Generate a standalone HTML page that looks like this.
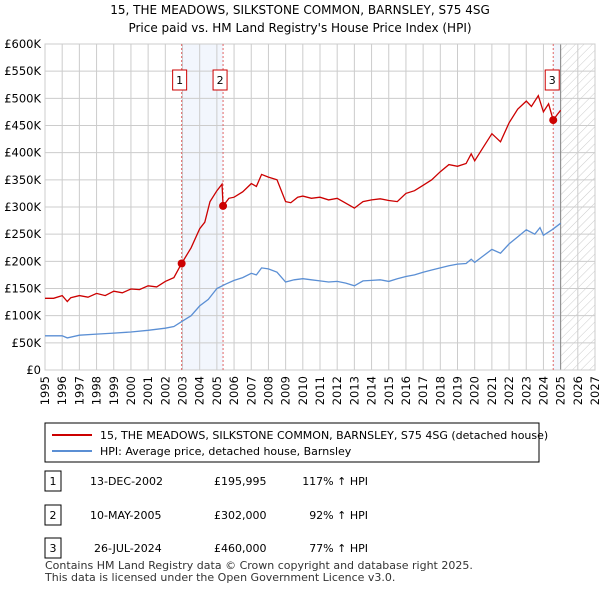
<!DOCTYPE html>
<html><head><meta charset="utf-8"><style>
body{margin:0;background:#fff;font-family:"Liberation Sans","DejaVu Sans",sans-serif;}
svg text{font-family:"DejaVu Sans","Liberation Sans",sans-serif;}
</style></head><body>
<svg id="c" width="600" height="590" xmlns="http://www.w3.org/2000/svg">
<defs><pattern id="h" width="6" height="6" patternUnits="userSpaceOnUse" patternTransform="rotate(45)"><line x1="0" y1="0" x2="0" y2="6" stroke="#ccc" stroke-width="1"/></pattern></defs>
<text x="300" y="14" text-anchor="middle" font-size="12">15, THE MEADOWS, SILKSTONE COMMON, BARNSLEY, S75 4SG</text>
<text x="300" y="32" text-anchor="middle" font-size="12">Price paid vs. HM Land Registry's House Price Index (HPI)</text>
<g id="grid"></g><g id="marks"></g>
<g>
<rect x="45" y="423" width="494" height="39" fill="#fff" stroke="#000" stroke-width="1"/>
<line x1="52" y1="435" x2="92" y2="435" stroke="#cc0000" stroke-width="2"/>
<text x="100" y="439" font-size="11">15, THE MEADOWS, SILKSTONE COMMON, BARNSLEY, S75 4SG (detached house)</text>
<line x1="52" y1="451" x2="92" y2="451" stroke="#5b8fd4" stroke-width="2"/>
<text x="100" y="455" font-size="11">HPI: Average price, detached house, Barnsley</text>
</g>
<g id="table" font-size="11"></g>
<text x="45" y="569" font-size="11" fill="#333">Contains HM Land Registry data © Crown copyright and database right 2025.</text>
<text x="45" y="581" font-size="11" fill="#333">This data is licensed under the Open Government Licence v3.0.</text>
</svg>
<script>
const yTicks=[0,50,100,150,200,250,300,350,400,450,500,550,600];
const yTickLabels=["£0","£50K","£100K","£150K","£200K","£250K","£300K","£350K","£400K","£450K","£500K","£550K","£600K"];
const xYears=[1995,1996,1997,1998,1999,2000,2001,2002,2003,2004,2005,2006,2007,2008,2009,2010,2011,2012,2013,2014,2015,2016,2017,2018,2019,2020,2021,2022,2023,2024,2025,2026,2027];
const redT=[1995,1995.5,1996,1996.3,1996.5,1997,1997.5,1998,1998.5,1999,1999.5,2000,2000.5,2001,2001.5,2002,2002.5,2002.95,2003.5,2004,2004.3,2004.6,2005,2005.3,2005.36,2005.7,2006,2006.5,2007,2007.3,2007.6,2008,2008.5,2009,2009.3,2009.7,2010,2010.5,2011,2011.5,2012,2012.5,2013,2013.5,2014,2014.5,2015,2015.5,2016,2016.5,2017,2017.5,2018,2018.5,2019,2019.5,2019.8,2020,2020.5,2021,2021.5,2022,2022.5,2023,2023.3,2023.7,2024,2024.3,2024.57,2024.8,2025];
const redV=[132,132,137,126,133,137,134,141,137,145,142,149,148,155,153,163,170,196,225,260,272,310,330,342,302,316,318,328,343,338,360,355,350,310,308,318,320,316,318,313,316,307,298,310,313,315,312,310,325,330,340,350,365,378,375,380,398,385,410,435,420,455,480,495,485,505,475,490,460,470,478];
const blueT=[1995,1996,1996.3,1997,1998,1999,2000,2001,2002,2002.5,2003,2003.5,2004,2004.5,2005,2005.5,2006,2006.5,2007,2007.3,2007.6,2008,2008.5,2009,2009.5,2010,2010.5,2011,2011.5,2012,2012.5,2013,2013.5,2014,2014.5,2015,2015.5,2016,2016.5,2017,2017.5,2018,2018.5,2019,2019.5,2019.8,2020,2020.5,2021,2021.5,2022,2022.5,2023,2023.5,2023.8,2024,2024.5,2025];
const blueV=[63,63,59,64,66,68,70,73,77,80,90,100,118,130,150,158,165,170,178,175,188,186,180,162,166,168,166,164,162,163,160,155,164,165,166,163,168,172,175,180,184,188,192,195,196,204,198,210,222,215,232,245,258,250,262,248,258,270];
const saleT=[2002.95,2005.36,2024.57];
const saleV=[195.995,302,460];
const saleLabels=["1","2","3"];
const saleDates=["13-DEC-2002","10-MAY-2005","26-JUL-2024"];
const salePrices=["£195,995","£302,000","£460,000"];
const saleHpi=["117% ↑ HPI","92% ↑ HPI","77% ↑ HPI"];
const X0=45,X1=595,Y0=370,Y1=44;
const xs=t=>X0+(t-1995)/32*(X1-X0);
const ys=v=>Y0-v/600*(Y0-Y1);
const NS="http://www.w3.org/2000/svg";
function mk(tag,at,parent,txt){const e=document.createElementNS(NS,tag);for(const k in at)e.setAttribute(k,at[k]);if(txt!==undefined)e.textContent=txt;parent.appendChild(e);return e;}
const g=document.getElementById('grid'),m=document.getElementById('marks'),tb=document.getElementById('table');
let s1=mk('rect',{x:xs(saleT[0]),y:Y1,width:xs(saleT[1])-xs(saleT[0]),height:Y0-Y1,fill:'#f2f6fd'},g);

let s2=mk('rect',{x:xs(saleT[2]),y:Y1,width:xs(2025)-xs(saleT[2]),height:Y0-Y1,fill:'#f2f6fd'},g);

let hz=mk('rect',{x:xs(2025),y:Y1,width:X1-xs(2025),height:Y0-Y1,fill:'url(#h)'},g);

yTicks.forEach((v,i)=>{mk('line',{x1:X0,x2:X1,y1:ys(v),y2:ys(v),stroke:'#ccc'},g);
 let t=mk('text',{x:X0-4,y:ys(v)+4,'text-anchor':'end','font-size':11.5},g,yTickLabels[i]);
 });
xYears.forEach(y=>{mk('line',{x1:xs(y),x2:xs(y),y1:Y1,y2:Y0,stroke:'#ccc'},g);
 let t=mk('text',{x:xs(y),y:Y0+6,'font-size':11.5,'text-anchor':'end',transform:`rotate(-90 ${xs(y)} ${Y0+6})`,dy:'4'},g,String(y));
 });
mk('line',{x1:xs(2025),x2:xs(2025),y1:Y1,y2:Y0,stroke:'#888'},g);
mk('rect',{x:X0,y:Y1,width:X1-X0,height:Y0-Y1,fill:'none',stroke:'#ccc'},g);
saleT.forEach((t,i)=>{mk('line',{x1:xs(t),x2:xs(t),y1:Y1,y2:Y0,stroke:'#e06666','stroke-dasharray':'2,2'},m);});
const pts=(T,V)=>T.map((t,i)=>xs(t).toFixed(1)+','+ys(V[i]).toFixed(1)).join(' ');
let bl=mk('polyline',{points:pts(blueT,blueV),fill:'none',stroke:'#5b8fd4','stroke-width':1.3},m);

let rl=mk('polyline',{points:pts(redT,redV),fill:'none',stroke:'#cc0000','stroke-width':1.3},m);

saleT.forEach((t,i)=>{let c=mk('circle',{cx:xs(t),cy:ys(saleV[i]),r:4,fill:'#cc0000'},m);
 
 let bx=xs(t)-7-(i==0?2:(i==1?3:1));
 let r=mk('rect',{x:bx,y:70,width:14,height:20,fill:'#fff',stroke:'#cc0000'},m);
 
 mk('text',{x:bx+7,y:84,'text-anchor':'middle','font-size':11},m,saleLabels[i]);
 let ry=[482,516,549][i];
 let tr=mk('rect',{x:45,y:ry-11,width:16,height:20,fill:'#fff',stroke:'#000'},tb);
 
 mk('text',{x:53,y:ry+3,'text-anchor':'middle'},tb,saleLabels[i]);
 let d=mk('text',{x:[90,90,94][i],y:ry+3},tb,saleDates[i]);
 
 let p=mk('text',{x:214,y:ry+3},tb,salePrices[i]);
 
 let h=mk('text',{x:368,y:ry+3,'text-anchor':'end'},tb,saleHpi[i]);
 
});
</script>
</body></html>
